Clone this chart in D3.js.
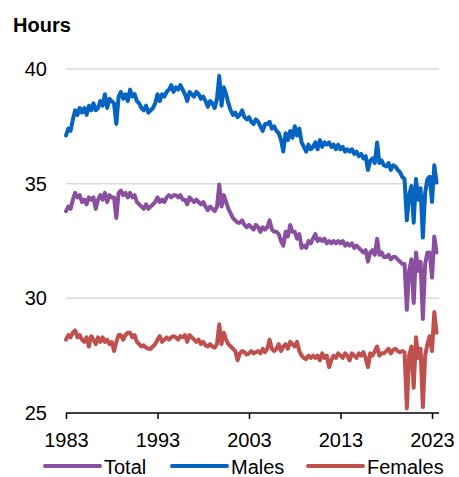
<!DOCTYPE html>
<html><head><meta charset="utf-8">
<script src="https://cdn.jsdelivr.net/npm/d3@7"></script>
<style>
html,body{margin:0;padding:0;background:#fff;}
svg{display:block;font-family:"Liberation Sans",Arial,sans-serif;}
</style></head>
<body>
<svg id="c" width="459" height="477"></svg>
<script>
// Quarterly observations, starting Q1 1983
const startYear = 1983;
const step = 0.25;
const xTicks = [1983, 1993, 2003, 2013, 2023];
const yTicks = [25, 30, 35, 40];
const seriesNames = ["Total", "Males", "Females"];
const seriesColors = ["#8a4f9f", "#0563c1", "#c0504d"];

const males = [
 37.1,37.4,37.3,37.8, 38.2,38.0,38.3,38.1, 38.3,38.0,38.4,38.2, 38.5,38.2,38.3,38.6,
 38.4,38.9,38.3,38.7, 38.6,38.5,37.6,38.8, 39.0,38.7,38.9,38.6, 39.1,38.8,38.9,38.6,
 38.5,38.3,38.2,38.4, 38.1,38.2,38.3,38.5, 38.9,38.6,38.9,38.8, 39.0,39.1,39.3,39.0,
 39.2,39.1,39.3,39.1, 38.9,38.6,39.0,38.9, 38.8,39.0,38.9,38.7, 38.8,38.6,38.35,38.6,
 38.5,38.3,38.7,39.7, 38.4,39.2,38.9,38.5, 38.2,38.0,38.1,37.9, 38.0,38.2,37.9,37.8,
 37.9,37.7,37.6,37.8, 37.7,37.5,37.3,37.6, 37.6,37.7,37.4,37.5, 37.3,37.2,36.9,36.4,
 37.2,36.9,37.3,37.0, 37.5,37.1,37.4,36.8, 36.6,36.4,36.7,36.5, 36.6,36.8,36.5,36.9,
 36.6,36.8,36.7,36.8, 36.6,36.7,36.5,36.7, 36.5,36.6,36.4,36.5, 36.4,36.5,36.3,36.4,
 36.2,36.3,36.1,36.2, 35.6,36.0,36.1,35.9, 36.8,35.9,36.0,35.8, 35.75,35.9,35.6,35.8,
 35.75,35.6,35.5,35.3, 35.2,33.4,34.5,34.9, 33.3,35.2,34.3,34.8, 32.65,34.6,35.2,35.3,
 34.2,35.8,35.05
];
const total = [
 33.8,34.0,33.9,34.3, 34.6,34.4,34.5,34.2, 34.3,34.1,34.4,34.3, 34.4,33.9,34.3,34.5,
 34.3,34.6,34.2,34.5, 34.4,34.4,33.5,34.6, 34.7,34.5,34.6,34.4, 34.6,34.4,34.5,34.2,
 34.1,34.0,33.9,34.1, 33.9,34.0,34.1,34.2, 34.4,34.2,34.3,34.2, 34.4,34.5,34.4,34.5,
 34.5,34.4,34.5,34.3, 34.3,34.1,34.4,34.3, 34.2,34.3,34.2,34.1, 34.2,34.0,33.85,34.0,
 33.9,33.8,34.0,34.96, 34.0,34.5,34.2,33.9, 33.7,33.5,33.4,33.3, 33.3,33.4,33.2,33.1,
 33.2,33.1,33.0,33.2, 33.1,32.9,33.1,33.0, 33.1,33.4,33.0,32.9, 32.9,32.8,32.5,32.3,
 32.9,32.7,33.2,32.9, 32.9,32.6,32.8,32.2, 32.3,32.2,32.5,32.4, 32.6,32.8,32.5,32.6,
 32.5,32.6,32.4,32.5, 32.4,32.5,32.4,32.5, 32.4,32.5,32.3,32.4, 32.3,32.4,32.2,32.3,
 32.2,32.1,32.0,32.1, 31.6,32.0,32.1,31.9, 32.6,31.9,32.0,31.8, 31.8,31.9,31.7,31.8,
 31.8,31.7,31.6,31.5, 31.5,29.5,31.2,31.7, 29.8,32.0,31.2,31.6, 29.1,31.5,32.0,32.0,
 30.9,32.7,32.0
];
const females = [
 28.2,28.4,28.3,28.5, 28.6,28.3,28.4,28.2, 28.1,28.3,27.9,28.35, 28.2,28.0,28.3,28.1,
 28.3,28.1,28.2,28.0, 28.1,27.7,28.1,28.4, 28.4,28.2,28.4,28.5, 28.5,28.3,28.4,28.1,
 28.0,27.9,27.95,27.85, 27.8,27.8,27.9,28.0, 28.2,28.35,28.1,28.2, 28.3,28.2,28.3,28.35,
 28.3,28.2,28.35,28.3, 28.4,28.1,28.4,28.3, 28.2,28.1,28.2,28.0, 28.1,27.95,27.9,28.0,
 27.9,27.85,28.0,28.87, 28.0,28.5,28.2,28.0, 27.9,27.8,27.7,27.3, 27.6,27.7,27.65,27.55,
 27.6,27.7,27.6,27.65, 27.7,27.6,27.8,27.65, 27.8,28.2,27.8,27.7, 27.8,28.0,27.7,27.9,
 28.0,27.8,28.1,28.0, 27.9,28.1,27.7,27.5, 27.4,27.35,27.5,27.4, 27.5,27.4,27.5,27.3,
 27.6,27.4,27.5,27.0, 27.3,27.5,27.4,27.6, 27.5,27.4,27.6,27.5, 27.3,27.6,27.5,27.4,
 27.6,27.5,27.65,27.4, 27.0,27.6,27.5,27.7, 27.9,27.5,27.6,27.6, 27.7,27.8,27.6,27.75,
 27.8,27.7,27.65,27.7, 27.65,25.2,27.5,27.9, 26.1,28.3,27.4,27.8, 25.26,27.5,28.0,28.35,
 27.7,29.4,28.5
];

const svg = d3.select("#c");
const x = d3.scaleLinear().domain([1983, 2023]).range([66, 432]);
const y = d3.scaleLinear().domain([25, 40]).range([413, 69]);

// title
svg.append("text").attr("x", 13).attr("y", 32)
  .attr("font-size", 20).attr("font-weight", "bold").attr("fill", "#000").text("Hours");

// gridlines
svg.append("g").selectAll("line").data(yTicks.filter(d => d > 25)).join("line")
  .attr("x1", 66).attr("x2", 439)
  .attr("y1", d => y(d)).attr("y2", d => y(d))
  .attr("stroke", "#d9d9d9").attr("stroke-width", 1.5);

// y labels
svg.append("g").selectAll("text").data(yTicks).join("text")
  .attr("x", 47).attr("y", d => y(d) + 7)
  .attr("text-anchor", "end").attr("font-size", 20).attr("fill", "#000")
  .text(d => d);

// x axis
const xa = svg.append("g").attr("transform", `translate(0,${y(25)})`)
  .call(d3.axisBottom(x).tickValues(xTicks).tickFormat(d3.format("d")).tickSize(6).tickSizeOuter(0));
xa.select(".domain").remove();
xa.append("line").attr("x1", 66).attr("x2", 439).attr("y1", 0).attr("y2", 0)
  .attr("stroke", "#000").attr("stroke-width", 1.5);
xa.selectAll(".tick line").attr("stroke", "#000").attr("stroke-width", 1.5);
xa.selectAll(".tick text").attr("font-size", 20).attr("fill", "#000")
  .attr("font-family", "Liberation Sans, Arial, sans-serif").attr("dy", 0).attr("y", 34);

// lines
const series = [total, males, females];
const line = d3.line().x((d, i) => x(startYear + i * step)).y(d => y(d)).curve(d3.curveLinear);
const order = [2, 0, 1];
order.forEach(k => {
  svg.append("path").datum(series[k]).attr("d", line)
    .attr("fill", "none").attr("stroke", seriesColors[k]).attr("stroke-width", 4)
    .attr("stroke-linejoin", "round").attr("stroke-linecap", "round");
});

// legend
const legX = [45, 172, 308];
const lg = svg.append("g");
seriesNames.forEach((n, i) => {
  lg.append("line").attr("x1", legX[i]).attr("x2", legX[i] + 55)
    .attr("y1", 466).attr("y2", 466).attr("stroke", seriesColors[i])
    .attr("stroke-width", 4).attr("stroke-linecap", "round");
  lg.append("text").attr("x", legX[i] + 59).attr("y", 474)
    .attr("font-size", 20).attr("fill", "#000").text(n);
});
</script>
</body></html>
